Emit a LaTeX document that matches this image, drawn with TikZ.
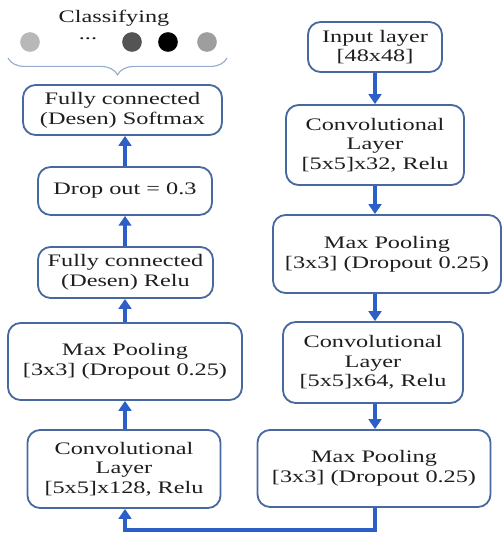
\documentclass[tikz,border=0pt]{standalone}
\usepackage{fontspec}
\setmainfont{Liberation Serif}[FakeStretch=1.38]
\usepackage{tikz}
\usetikzlibrary{arrows.meta}
\usetikzlibrary{decorations.pathreplacing}
\definecolor{boxline}{RGB}{72,104,160}
\definecolor{arrowblue}{RGB}{45,95,200}
\definecolor{bracecol}{RGB}{150,172,205}
\definecolor{textcol}{RGB}{30,30,30}
\tikzset{
    layerbox/.style={
        draw=boxline,
        line width=1.3pt,
        rounded corners=9pt,
        fill=white,
        text=textcol,
        font=\fontsize{12.5}{14}\selectfont,
        align=center,
        inner sep=0pt
    },
    flow/.style={
        draw=arrowblue,
        line width=2.5pt,
        -{Triangle[width=9pt,length=7pt]}
    }
}

\begin{document}
\begin{tikzpicture}
[
    x=0.025cm,
    y=-0.025cm,
    outdot/.style={
        circle,
        inner sep=0pt,
        minimum size=14pt
    },
]
\useasboundingbox (0,0) rectangle (503,538);
% classifying outputs
\node[text=textcol,font=\fontsize{12.5}{14}\selectfont] (cls) at (114,18) {Classifying};
\node[outdot,fill=black!28] (o1) at (30,42) {};
\node[text=textcol,font=\fontsize{12.5}{14}\selectfont] (odots) at (88,39) {...};
\node[outdot,fill=black!67] (o2) at (132,42) {};
\node[outdot,fill=black] (o3) at (168,42) {};
\node[outdot,fill=black!38] (o4) at (207,42) {};
\draw[bracecol,line width=0.8pt,decorate,decoration={brace,amplitude=12pt,mirror}]
    (8,58) -- (227,58);
% right column
\node[layerbox,minimum width=95.3pt,minimum height=35.6pt] (input) at (375,47)
    {Input layer\\{}[48x48]};
\node[layerbox,minimum width=126.6pt,minimum height=56.9pt] (conva) at (375,145)
    {Convolutional\\Layer\\{}[5x5]x32, Relu};
\node[layerbox,minimum width=162.2pt,minimum height=55.5pt] (poola) at (387,254)
    {Max Pooling\\{}[3x3] (Dropout 0.25)};
\node[layerbox,minimum width=128pt,minimum height=57.6pt] (convb) at (373,362.5)
    {Convolutional\\Layer\\{}[5x5]x64, Relu};
\node[layerbox,minimum width=165.7pt,minimum height=54.8pt] (poolb) at (374,468.5)
    {Max Pooling\\{}[3x3] (Dropout 0.25)};
% left column
\node[layerbox,minimum width=137.3pt,minimum height=55.5pt] (convc) at (124,469)
    {Convolutional\\Layer\\{}[5x5]x128, Relu};
\node[layerbox,minimum width=166.4pt,minimum height=54.8pt] (poolc) at (125,361.5)
    {Max Pooling\\{}[3x3] (Dropout 0.25)};
\node[layerbox,minimum width=124.5pt,minimum height=36.3pt] (fcrelu) at (125.5,272.5)
    {Fully connected\\(Desen) Relu};
\node[layerbox,minimum width=123.8pt,minimum height=34.1pt] (drop) at (125,191)
    {Drop out = 0.3};
\node[layerbox,minimum width=141.5pt,minimum height=35.6pt] (fcsoft) at (122.5,110)
    {Fully connected\\(Desen) Softmax};
\coordinate (turnr) at (375,530);
\coordinate (turnl) at (125,530);
% connectors
\draw[flow] (input.south -| turnr) -- (conva.north -| turnr);
\draw[flow] (conva.south -| turnr) -- (poola.north -| turnr);
\draw[flow] (poola.south -| turnr) -- (convb.north -| turnr);
\draw[flow] (convb.south -| turnr) -- (poolb.north -| turnr);
\draw[flow] (poolb.south -| turnr) -- (turnr) -- (turnl) -- (convc.south -| turnl);
\draw[flow] (convc.north -| turnl) -- (poolc.south -| turnl);
\draw[flow] (poolc.north -| turnl) -- (fcrelu.south -| turnl);
\draw[flow] (fcrelu.north -| turnl) -- (drop.south -| turnl);
\draw[flow] (drop.north -| turnl) -- (fcsoft.south -| turnl);
\end{tikzpicture}
\end{document}
